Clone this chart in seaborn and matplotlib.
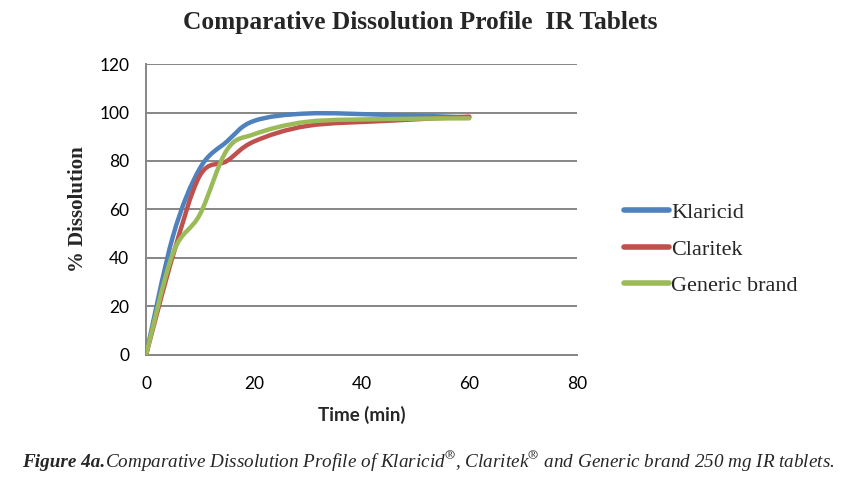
import numpy as np
import pandas as pd
import matplotlib
matplotlib.use("Agg")
import matplotlib.pyplot as plt
import seaborn as sns
from matplotlib.path import Path
from matplotlib.patches import PathPatch
from matplotlib.lines import Line2D

# ── Data ─────────────────────────────────────────────────────
time_min = [0, 5, 10, 15, 20, 30, 45, 60]
klaricid = [0, 49, 77, 88, 96.5, 99.6, 99.0, 98.0]
claritek = [0, 41, 74, 80, 88, 94.5, 96.6, 98.3]
generic = [0, 42, 58, 84.5, 91, 96.2, 97.3, 97.6]

series_names = ["Klaricid", "Claritek", "Generic brand"]
series_vals = [klaricid, claritek, generic]
colors = ["#4F81BD", "#C0504D", "#9BBB59"]

x_ticks = [0, 20, 40, 60, 80]
y_ticks = [0, 20, 40, 60, 80, 100, 120]

SERIF = ["Liberation Serif", "DejaVu Serif"]
SANS = ["Lato", "DejaVu Sans"]


def smooth_path(x, y):
    """Excel-style smoothed line: cubic Bezier through every point."""
    p = np.column_stack([x, y]).astype(float)
    ext = np.vstack([p[0], p, p[-1]])
    verts, codes = [p[0]], [Path.MOVETO]
    for i in range(1, len(ext) - 2):
        c1 = ext[i] + (ext[i + 1] - ext[i - 1]) / 6.0
        c2 = ext[i + 1] - (ext[i + 2] - ext[i]) / 6.0
        verts += [c1, c2, ext[i + 1]]
        codes += [Path.CURVE4] * 3
    return Path(verts, codes)


df = pd.DataFrame({
    "Time (min)": time_min * 3,
    "% Dissolution": klaricid + claritek + generic,
    "Product": sum([[n] * len(time_min) for n in series_names], []),
})

sns.set_theme(style="white")
plt.rcParams["mathtext.fontset"] = "stix"

fig = plt.figure(figsize=(8.57, 4.92), dpi=100)
ax = fig.add_axes([0.1704, 0.2785, 0.5029, 0.5914])

sns.lineplot(data=df, x="Time (min)", y="% Dissolution", hue="Product",
             palette=colors, linewidth=3.2, ax=ax, legend=False)
# replace the straight segments with smoothed curves
for ln in ax.lines:
    ln.set_visible(False)
for vals, col in zip(series_vals, colors):
    ax.add_patch(PathPatch(smooth_path(time_min, vals), fill=False,
                           edgecolor=col, lw=3.2, joinstyle="round",
                           capstyle="round", zorder=3))

ax.set_xlim(0, 80)
ax.set_ylim(0, 120)
ax.set_xticks(x_ticks)
ax.set_yticks(y_ticks)
ax.tick_params(axis="x", length=0, pad=15, labelsize=12.5, colors="black")
ax.tick_params(axis="y", length=0, pad=12, labelsize=12.5, colors="black")
for lab in ax.get_xticklabels() + ax.get_yticklabels():
    lab.set_family(SANS)
ax.yaxis.grid(True, color="#868686", lw=1.4)
ax.xaxis.grid(False)
for s in ["top", "right"]:
    ax.spines[s].set_visible(False)
for s in ["left", "bottom"]:
    ax.spines[s].set_color("#868686")
    ax.spines[s].set_linewidth(1.4)

ax.set_xlabel("Time (min)", family=SANS, fontsize=13.5, fontweight="bold",
              labelpad=10)
ax.set_ylabel("% Dissolution", family=SERIF, fontsize=15, fontweight="bold",
              labelpad=8)

handles = [Line2D([], [], color=c, lw=4) for c in colors]
ax.legend(handles, series_names, loc="center left",
          bbox_to_anchor=(0.705, 0.493), bbox_transform=fig.transFigure,
          frameon=False, prop={"family": SERIF, "size": 16},
          handlelength=2.0, handletextpad=0.12, labelspacing=0.72)

fig.text(0.49, 0.955, "Comparative Dissolution Profile  IR Tablets",
         ha="center", va="center", family=SERIF, fontsize=18.3,
         fontweight="bold")

# caption: bold-italic prefix followed by italic text on one baseline
cap1 = fig.text(0.026, 0.051, "Figure 4a.", family=SERIF, fontsize=13.8,
                fontweight="bold", style="italic", va="baseline")
fig.canvas.draw()
bb = cap1.get_window_extent(fig.canvas.get_renderer())
x_next = fig.transFigure.inverted().transform((bb.x1, 0))[0]
fig.text(x_next, 0.051, "Comparative Dissolution Profile of Klaricid$^{®}$, "
         "Claritek$^{®}$ and Generic brand 250 mg IR tablets.",
         family=SERIF, fontsize=13.8, style="italic", va="baseline")

fig.savefig("out.png", dpi=100)
